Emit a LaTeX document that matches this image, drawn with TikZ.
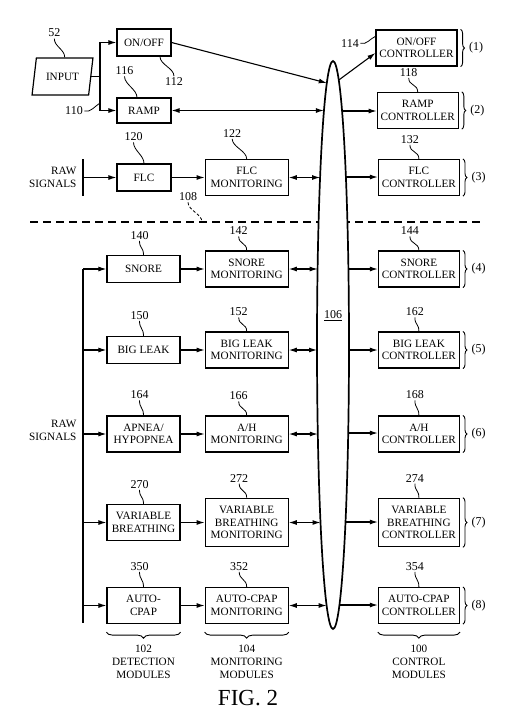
\documentclass[tikz,border=0pt]{standalone}
\usepackage{fontspec}
\setmainfont{Liberation Serif}
\usetikzlibrary{arrows.meta, positioning, shapes.geometric, decorations.pathreplacing}
\tikzset{
    block/.style = {draw, rectangle, line width=1.2pt, align=center, inner xsep=3pt, inner ysep=8pt, minimum height=27pt, font=\fontsize{11.2}{12.5}\selectfont},
    detect/.style = {block, minimum width=73pt},
    detectTop/.style = {block, minimum width=54pt},
    monitor/.style = {block, minimum width=83pt},
    ctrl/.style = {block, minimum width=81pt},
    num/.style = {inner sep=1pt, font=\fontsize{12}{13}\selectfont},
    caption/.style = {inner sep=1pt, align=center, font=\fontsize{11.2}{13}\selectfont},
    leader/.style = {line width=0.8pt, to path={.. controls +(0,8) and +(0,-8) .. (\tikztotarget)}},
    tagBrace/.style = {decorate, decoration={brace, amplitude=4pt}, line width=0.9pt},
    modBrace/.style = {decorate, decoration={brace, amplitude=6pt}, line width=0.9pt},
    tagText/.style = {inner sep=1pt, font=\fontsize{12}{13}\selectfont}
}

\begin{document}
\begin{tikzpicture}[x=1pt, y=-1pt, >={Latex[length=8pt,width=5pt]}, line width=1.1pt]
    \useasboundingbox (0,0) rectangle (514,713);

    % Bloques superiores
    \node [draw, trapezium, trapezium left angle=73, trapezium right angle=107, trapezium stretches=true, minimum width=61pt, minimum height=37pt, inner sep=1pt, line width=1.2pt, font=\fontsize{11.2}{12.5}\selectfont] (input) at (62.5,76.5) {INPUT};
    \node [detectTop] (onoff) at (144,42.5) {ON/OFF};
    \node [detectTop, minimum height=25pt] (ramp) at (144,110.5) {RAMP};
    \node [detectTop] (flc) at (144,177.5) {FLC};
    \node [monitor, right=33pt of flc] (flcMon) {FLC\\MONITORING};
    \node [ctrl] (onoffCtl) at (416.5,48) {ON/OFF\\CONTROLLER};
    \node [ctrl, right=205pt of ramp] (rampCtl) {RAMP\\CONTROLLER};
    \node [ctrl, right=89pt of flcMon] (flcCtl) {FLC\\CONTROLLER};
    \coordinate (split) at (100,76.5);
    \coordinate (tap) at (100,103);
    \coordinate (rawA) at (83,177.5);
    \node [caption, align=right, left=5pt of rawA] (rawLblA) {RAW\\SIGNALS};

    % Bloques de deteccion, monitoreo y control
    \node [detect] (snore) at (143.5,269) {SNORE};
    \node [monitor, right=24pt of snore] (snoreMon) {SNORE\\MONITORING};
    \node [ctrl, right=89pt of snoreMon] (snoreCtl) {SNORE\\CONTROLLER};
    \node [detect] (bigLeak) at (143.5,350) {BIG LEAK};
    \node [monitor, right=24pt of bigLeak] (bigLeakMon) {BIG LEAK\\MONITORING};
    \node [ctrl, right=89pt of bigLeakMon] (bigLeakCtl) {BIG LEAK\\CONTROLLER};
    \node [detect] (apnea) at (143.5,434) {APNEA/\\HYPOPNEA};
    \node [monitor, right=24pt of apnea] (ahMon) {A/H\\MONITORING};
    \node [ctrl, right=89pt of ahMon] (ahCtl) {A/H\\CONTROLLER};
    \node [detect] (varBr) at (143.5,522.5) {VARIABLE\\BREATHING};
    \node [monitor, right=24pt of varBr] (varBrMon) {VARIABLE\\BREATHING\\MONITORING};
    \node [ctrl, right=89pt of varBrMon] (varBrCtl) {VARIABLE\\BREATHING\\CONTROLLER};
    \node [detect] (autoCpap) at (143.5,605.5) {AUTO-\\CPAP};
    \node [monitor, right=24pt of autoCpap] (autoCpapMon) {AUTO-CPAP\\MONITORING};
    \node [ctrl, right=89pt of autoCpapMon] (autoCpapCtl) {AUTO-CPAP\\CONTROLLER};
    \coordinate (rawB) at (83,623);
    \node [caption, align=right, anchor=east] (rawLblB) at (78,430) {RAW\\SIGNALS};

    % Separador y bus 106
    \coordinate (sepL) at (30,222);
    \coordinate (sepR) at (483,222);
    \coordinate (sepMark) at (202,222);
    \draw [dash pattern=on 8pt off 5pt, line width=1.2pt] (sepL) -- (sepR);
    \node [draw, ellipse, fill=white, line width=1.7pt, minimum width=32pt, minimum height=568pt, inner sep=0pt] (bus) at (333,345) {};
    \node [num] (busNum) at (333,316) {\underline{106}};
    \coordinate (inA) at (326.8,83);   \coordinate (outA) at (338.8,80);
    \coordinate (inB) at (323.9,111);  \coordinate (outB) at (342.1,111);
    \coordinate (inC) at (320.1,177);  \coordinate (outC) at (345.9,177);
    \coordinate (inD) at (317.6,269);  \coordinate (outD) at (348.4,269);
    \coordinate (inE) at (317,350);    \coordinate (outE) at (349,350);
    \coordinate (inF) at (317.8,433);  \coordinate (outF) at (348.2,433);
    \coordinate (inG) at (320.5,522);  \coordinate (outG) at (345.5,522);
    \coordinate (inH) at (326.6,605);  \coordinate (outH) at (339.4,605);

    % Flechas superiores
    \draw (input.east) -- (split);
    \draw [->] (split) |- (onoff);
    \draw [->] (split) |- (ramp);
    \draw [->] (onoff.east) -- (inA);
    \draw [->] (outA) -- ([yshift=-5pt]onoffCtl.west);
    \draw [<->] (ramp.east) -- (ramp.east -| inB);
    \draw [->] (outB) -- (outB -| rampCtl.west);
    \draw ([yshift=18.5pt]rawA) -- ([yshift=-18.5pt]rawA);
    \draw [->] (rawA) -- (flc);
    \draw [->] (flc) -- (flcMon);
    \draw [<->] (flcMon.east) -- (flcMon.east -| inC);
    \draw [->] (outC) -- (outC -| flcCtl.west);

    % Flechas inferiores
    \draw (snore.west -| rawB) -- (rawB);
    \draw [->] (snore.west -| rawB) -- (snore);
    \draw [->] (bigLeak.west -| rawB) -- (bigLeak);
    \draw [->] (apnea.west -| rawB) -- (apnea);
    \draw [->] (varBr.west -| rawB) -- (varBr);
    \draw [->] (autoCpap.west -| rawB) -- (autoCpap);
    \draw [->] (snore) -- (snoreMon);
    \draw [->] (bigLeak) -- (bigLeakMon);
    \draw [->] (apnea) -- (ahMon);
    \draw [->] (varBr) -- (varBrMon);
    \draw [->] (autoCpap) -- (autoCpapMon);
    \draw [<->] (snoreMon.east) -- (snoreMon.east -| inD);
    \draw [<->] (bigLeakMon.east) -- (bigLeakMon.east -| inE);
    \draw [<->] (ahMon.east) -- (ahMon.east -| inF);
    \draw [<->] (varBrMon.east) -- (varBrMon.east -| inG);
    \draw [<->] (autoCpapMon.east) -- (autoCpapMon.east -| inH);
    \draw [->] (outD) -- (outD -| snoreCtl.west);
    \draw [->] (outE) -- (outE -| bigLeakCtl.west);
    \draw [->] (outF) -- (outF -| ahCtl.west);
    \draw [->] (outG) -- (outG -| varBrCtl.west);
    \draw [->] (outH) -- (outH -| autoCpapCtl.west);

    % Numeros de referencia
    \node [num] (n52) at (54.3,33) {52};
    \draw [leader] (n52.south) to (input.top side);
    \node [num] (n112) at (174,81.7) {112};
    \draw [leader] ([xshift=16pt]onoff.south) to (n112.north);
    \node [num, above=21pt of ramp, xshift=-19.5pt] (n116) {116};
    \draw [leader] (n116.south) to ([xshift=-7pt]ramp.north);
    \node [num] (n110) at (74,111) {110};
    \draw [line width=0.8pt] (n110.east) .. controls +(6,2) and +(-5,3) .. (tap);
    \node [num, above=21pt of flc, xshift=-10.5pt] (n120) {120};
    \draw [leader] (n120.south) to (flc.north);
    \node [num, above=20pt of flcMon, xshift=-14.5pt] (n122) {122};
    \draw [leader] (n122.south) to (flcMon.north);
    \node [num] (n108) at (188,196.7) {108};
    \draw [leader, dash pattern=on 3pt off 2pt] (n108.south) to (sepMark);
    \node [num] (n114) at (350,43.3) {114};
    \draw [line width=0.8pt] (n114.east) .. controls +(6,2) and +(-5,2) .. ([yshift=-7pt]onoffCtl.north west);
    \node [num, above=14pt of rampCtl, xshift=-9pt] (n118) {118};
    \draw [leader] (n118.south) to (rampCtl.north);
    \node [num, above=14pt of flcCtl, xshift=-9pt] (n132) {132};
    \draw [leader] (n132.south) to (flcCtl.north);
    \node [num, above=14pt of snore, xshift=-4pt] (n140) {140};
    \draw [leader] (n140.south) to (snore.north);
    \node [num, above=14pt of snoreMon, xshift=-8pt] (n142) {142};
    \draw [leader] (n142.south) to (snoreMon.north);
    \node [num, above=14pt of snoreCtl, xshift=-9pt] (n144) {144};
    \draw [leader] (n144.south) to (snoreCtl.north);
    \node [num, above=15pt of bigLeak, xshift=-4pt] (n150) {150};
    \draw [leader] (n150.south) to (bigLeak.north);
    \node [num, above=14pt of bigLeakMon, xshift=-8pt] (n152) {152};
    \draw [leader] (n152.south) to (bigLeakMon.north);
    \node [num, above=14pt of bigLeakCtl, xshift=-4pt] (n162) {162};
    \draw [leader] (n162.south) to (bigLeakCtl.north);
    \node [num, above=15pt of apnea, xshift=-4pt] (n164) {164};
    \draw [leader] (n164.south) to (apnea.north);
    \node [num, above=14pt of ahMon, xshift=-8pt] (n166) {166};
    \draw [leader] (n166.south) to (ahMon.north);
    \node [num, above=15pt of ahCtl, xshift=-4pt] (n168) {168};
    \draw [leader] (n168.south) to (ahCtl.north);
    \node [num, above=14pt of varBr, xshift=-4pt] (n270) {270};
    \draw [leader] (n270.south) to (varBr.north);
    \node [num, above=14pt of varBrMon, xshift=-7.5pt] (n272) {272};
    \draw [leader] (n272.south) to (varBrMon.north);
    \node [num, above=14pt of varBrCtl, xshift=-4pt] (n274) {274};
    \draw [leader] (n274.south) to (varBrCtl.north);
    \node [num, above=15pt of autoCpap, xshift=-4pt] (n350) {350};
    \draw [leader] (n350.south) to (autoCpap.north);
    \node [num, above=15pt of autoCpapMon, xshift=-7.5pt] (n352) {352};
    \draw [leader] (n352.south) to (autoCpapMon.north);
    \node [num, above=15pt of autoCpapCtl, xshift=-4pt] (n354) {354};
    \draw [leader] (n354.south) to (autoCpapCtl.north);

    % Llaves de los controladores
    \draw [tagBrace] ([xshift=3pt]onoffCtl.north east) -- ([xshift=3pt]onoffCtl.south east);
    \node [tagText, right=10pt of onoffCtl] (tag1) {(1)};
    \draw [tagBrace] ([xshift=3pt]rampCtl.north east) -- ([xshift=3pt]rampCtl.south east);
    \node [tagText, right=10pt of rampCtl] (tag2) {(2)};
    \draw [tagBrace] ([xshift=3pt]flcCtl.north east) -- ([xshift=3pt]flcCtl.south east);
    \node [tagText, right=10pt of flcCtl] (tag3) {(3)};
    \draw [tagBrace] ([xshift=3pt]snoreCtl.north east) -- ([xshift=3pt]snoreCtl.south east);
    \node [tagText, right=10pt of snoreCtl] (tag4) {(4)};
    \draw [tagBrace] ([xshift=3pt]bigLeakCtl.north east) -- ([xshift=3pt]bigLeakCtl.south east);
    \node [tagText, right=10pt of bigLeakCtl] (tag5) {(5)};
    \draw [tagBrace] ([xshift=3pt]ahCtl.north east) -- ([xshift=3pt]ahCtl.south east);
    \node [tagText, right=10pt of ahCtl] (tag6) {(6)};
    \draw [tagBrace] ([xshift=3pt]varBrCtl.north east) -- ([xshift=3pt]varBrCtl.south east);
    \node [tagText, right=10pt of varBrCtl] (tag7) {(7)};
    \draw [tagBrace] ([xshift=3pt]autoCpapCtl.north east) -- ([xshift=3pt]autoCpapCtl.south east);
    \node [tagText, right=10pt of autoCpapCtl] (tag8) {(8)};

    % Grupos de modulos
    \draw [modBrace] ([yshift=-8pt]autoCpap.south east) -- ([yshift=-8pt]autoCpap.south west);
    \node [caption, below=19pt of autoCpap] (detLbl) {102\\DETECTION\\MODULES};
    \draw [modBrace] ([yshift=-8pt]autoCpapMon.south east) -- ([yshift=-8pt]autoCpapMon.south west);
    \node [caption, below=19pt of autoCpapMon] (monLbl) {104\\MONITORING\\MODULES};
    \draw [modBrace] ([yshift=-8pt]autoCpapCtl.south east) -- ([yshift=-8pt]autoCpapCtl.south west);
    \node [caption, below=19pt of autoCpapCtl] (ctlLbl) {100\\CONTROL\\MODULES};

    \node [font=\fontsize{23}{25}\selectfont] (fig) at (248,698.5) {FIG. 2};
\end{tikzpicture}
\end{document}
